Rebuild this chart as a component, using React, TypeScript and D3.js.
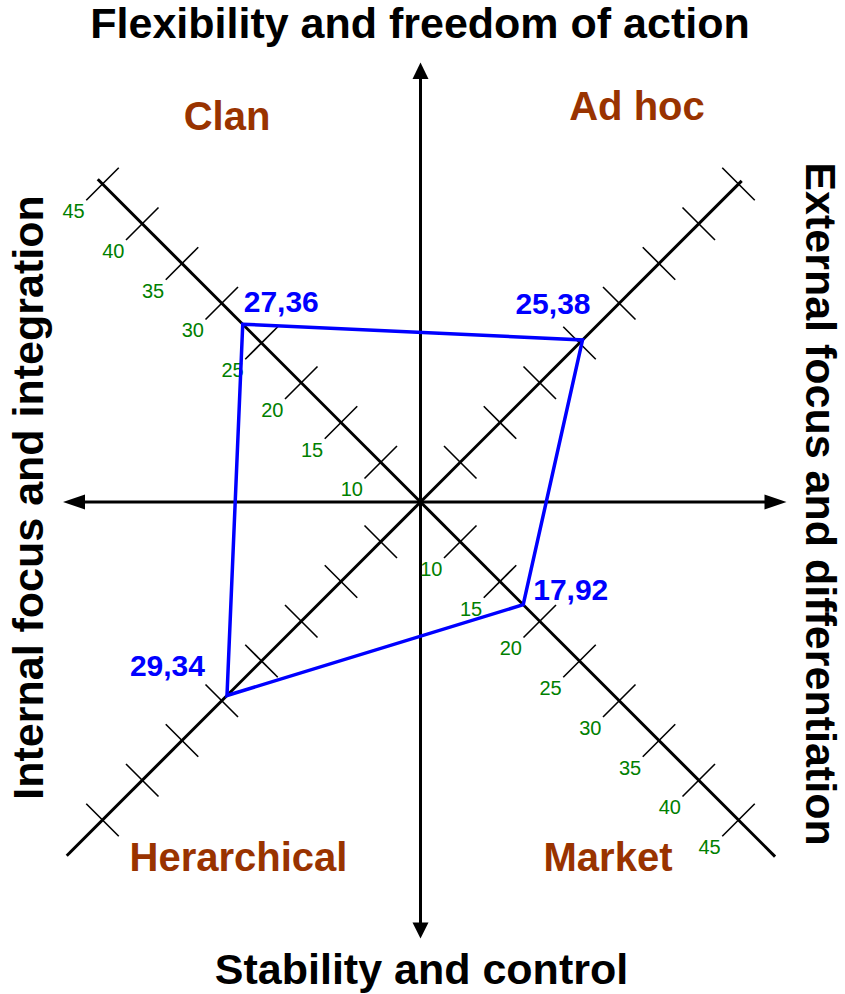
import React from "react";
import * as d3 from "d3";

// ---- data ----
const CATEGORIES = ["Clan", "Ad hoc", "Market", "Herarchical"];
const VALUES = [27.36, 25.38, 17.92, 29.34];
const VALUE_LABELS = ["27,36", "25,38", "17,92", "29,34"];
const TICKS = [10, 15, 20, 25, 30, 35, 40, 45];
const AXIS_TOP = "Flexibility and freedom of action";
const AXIS_BOTTOM = "Stability and control";
const AXIS_LEFT = "Internal focus and integration";
const AXIS_RIGHT = "External focus and differentiation";

// ---- layout ----
const W = 845;
const H = 994;
const CX = 420.5;
const CY = 502;
const FONT = "'Liberation Sans', Arial, Helvetica, sans-serif";
const DIRS: Record<string, [number, number]> = {
  Clan: [-1, -1],
  "Ad hoc": [1, -1],
  Market: [1, 1],
  Herarchical: [-1, 1],
};
const EXTENT: Record<string, number> = { Clan: 45.6, "Ad hoc": 45.4, Market: 49.6, Herarchical: 49.5 };
const LABELLED = new Set(["Clan", "Market"]);
const VALUE_LABEL_POS: Record<string, { dx: number; dy: number; anchor: string }> = {
  Clan: { dx: 1, dy: -12, anchor: "start" },
  "Ad hoc": { dx: 8, dy: -26, anchor: "end" },
  Market: { dx: 10, dy: -5, anchor: "start" },
  Herarchical: { dx: -22, dy: -20, anchor: "end" },
};
const QUAD_POS: Record<string, [number, number]> = {
  Clan: [227, 130],
  "Ad hoc": [637, 120],
  Market: [608, 871],
  Herarchical: [238.5, 871],
};

export default function App() {
  const r = d3.scaleLinear().domain([5, 45]).range([0, 318]);
  const pt = (cat: string, v: number): [number, number] => {
    const [sx, sy] = DIRS[cat];
    return [CX + sx * r(v), CY + sy * r(v)];
  };
  const polyPts = CATEGORIES.map((c, i) => pt(c, VALUES[i]));
  const line = d3.line().curve(d3.curveLinearClosed);
  const TH = 23 / Math.SQRT2;

  return (
    <svg
      width={W}
      height={H}
      style={{ position: "absolute", left: 0, top: 0, background: "#fff" }}
      fontFamily={FONT}
    >
      <rect width={W} height={H} fill="#fff" />
      {/* main axes */}
      <line x1={80} y1={CY} x2={770} y2={CY} stroke="#000" strokeWidth={3} />
      <path d={`M63,${CY} L85,${CY - 7.5} L85,${CY + 7.5} Z`} fill="#000" />
      <path d={`M786.5,${CY} L764.5,${CY - 7.5} L764.5,${CY + 7.5} Z`} fill="#000" />
      <line x1={CX} y1={76} x2={CX} y2={925} stroke="#000" strokeWidth={3} />
      <path d={`M${CX},62.5 L${CX - 8},79 L${CX + 8},79 Z`} fill="#000" />
      <path d={`M${CX},938.5 L${CX - 8},922.5 L${CX + 8},922.5 Z`} fill="#000" />

      {/* diagonal axes with ticks */}
      {CATEGORIES.map((c) => {
        const [sx, sy] = DIRS[c];
        const [ex, ey] = pt(c, EXTENT[c]);
        return (
          <g key={c}>
            <line x1={CX} y1={CY} x2={ex} y2={ey} stroke="#000" strokeWidth={3} />
            {TICKS.map((t) => {
              const [ix, iy] = pt(c, t);
              const px = sy * TH;
              const py = -sx * TH;
              return (
                <g key={t}>
                  <line x1={ix - px} y1={iy - py} x2={ix + px} y2={iy + py} stroke="#000" strokeWidth={1.6} />
                  {LABELLED.has(c) && (
                    <text x={ix - 29} y={iy + 34} fontSize={20} fill="#008000" textAnchor="middle">
                      {t}
                    </text>
                  )}
                </g>
              );
            })}
          </g>
        );
      })}

      {/* data polygon */}
      <path d={line(polyPts) || ""} fill="none" stroke="#0000ff" strokeWidth={3.5} strokeLinejoin="miter" />
      {CATEGORIES.map((c, i) => {
        const [x, y] = polyPts[i];
        const p = VALUE_LABEL_POS[c];
        return (
          <text key={c} x={x + p.dx} y={y + p.dy} fontSize={30} fontWeight="bold" fill="#0000ff" textAnchor={p.anchor}>
            {VALUE_LABELS[i]}
          </text>
        );
      })}

      {/* quadrant labels */}
      {CATEGORIES.map((c) => (
        <text key={c} x={QUAD_POS[c][0]} y={QUAD_POS[c][1]} fontSize={40} fontWeight="bold" fill="#993300" textAnchor="middle">
          {c}
        </text>
      ))}

      {/* axis titles */}
      <text x={420} y={38} fontSize={43} fontWeight="bold" textAnchor="middle" fill="#000">
        {AXIS_TOP}
      </text>
      <text x={421.5} y={984} fontSize={43} fontWeight="bold" textAnchor="middle" fill="#000">
        {AXIS_BOTTOM}
      </text>
      <text transform="translate(43,497.5) rotate(-90)" fontSize={43} fontWeight="bold" textAnchor="middle" fill="#000">
        {AXIS_LEFT}
      </text>
      <text transform="translate(806,504) rotate(90)" fontSize={43} fontWeight="bold" textAnchor="middle" fill="#000">
        {AXIS_RIGHT}
      </text>
    </svg>
  );
}
